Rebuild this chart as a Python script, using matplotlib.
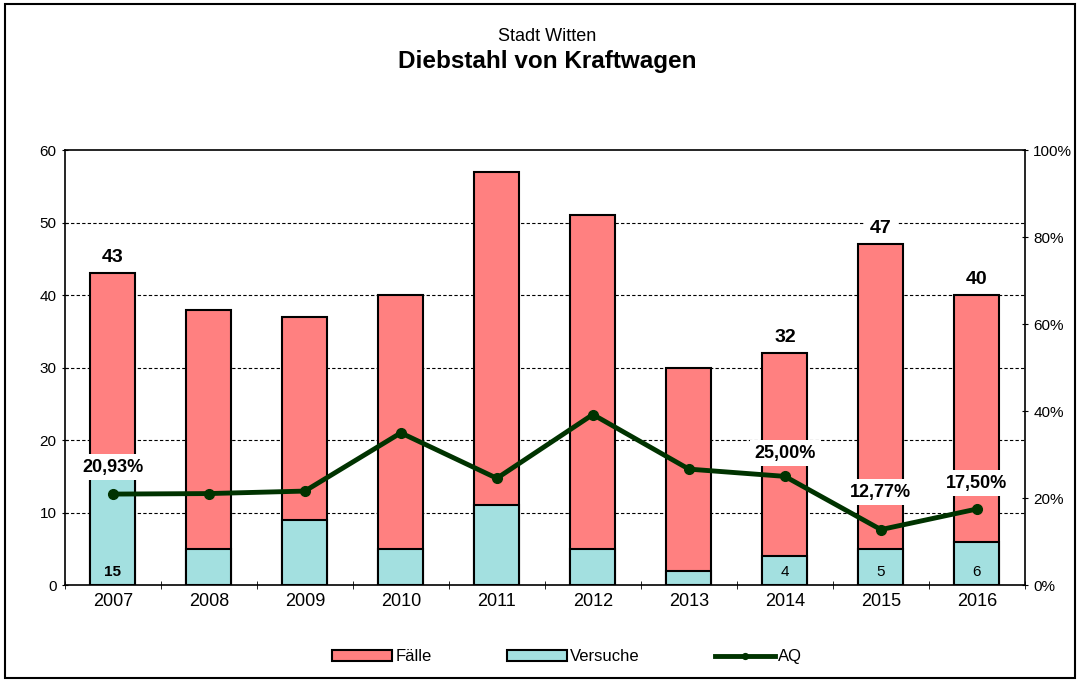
import matplotlib.pyplot as plt
from matplotlib.patches import Rectangle
import numpy as np

jahre = ['2007', '2008', '2009', '2010', '2011', '2012', '2013', '2014', '2015', '2016']
faelle = [43, 38, 37, 40, 57, 51, 30, 32, 47, 40]
versuche = [15, 5, 9, 5, 11, 5, 2, 4, 5, 6]
aq = [20.93, 21.05, 21.62, 35.00, 24.56, 39.22, 26.67, 25.00, 12.77, 17.50]

# nur diese Jahre beschriftet
label_jahre = ['2007', '2014', '2015', '2016']
aq_offset = {'2007': 6.2, '2014': 5.3, '2015': 8.6, '2016': 5.9}

plt.rcParams['font.family'] = ['Liberation Sans', 'DejaVu Sans']

col_faelle = '#FF8080'
col_versuche = '#A3E0E0'
col_aq = '#003300'

fig = plt.figure(figsize=(10.8, 6.82), dpi=100)
fig.patches.append(Rectangle((0.005, 0.006), 0.99, 0.988, transform=fig.transFigure,
                             fill=False, edgecolor='black', linewidth=1.5))

ax = fig.add_axes([0.060, 0.142, 0.889, 0.638])
x = np.arange(len(jahre))

ax.bar(x, faelle, width=0.47, color=col_faelle, edgecolor='black', linewidth=1.5,
       label='Fälle', zorder=2)
ax.bar(x, versuche, width=0.47, color=col_versuche, edgecolor='black', linewidth=1.5,
       label='Versuche', zorder=3)

ax.set_xlim(-0.5, len(jahre) - 0.5)
ax.set_ylim(0, 60)
ax.set_yticks(range(0, 61, 10))
ax.set_xticks(x)
ax.set_xticklabels(jahre, fontsize=13)
ax.set_xticks(np.arange(-0.5, len(jahre), 1), minor=True)
ax.tick_params(axis='x', which='major', length=0, pad=6)
ax.tick_params(axis='x', which='minor', length=6, direction='inout')
ax.tick_params(axis='y', labelsize=11, length=5, direction='inout')
for yv in range(10, 60, 10):
    ax.axhline(yv, color='black', linestyle=(0, (3, 2)), linewidth=0.8, zorder=1)
ax.spines['top'].set_linewidth(1.2)
ax.spines['right'].set_visible(False)
ax.spines['left'].set_linewidth(1.2)
ax.spines['bottom'].set_linewidth(1.2)

ax2 = ax.twinx()
ax2.plot(x, aq, color=col_aq, linewidth=3.5, marker='o', markersize=7,
         label='AQ', zorder=5)
ax2.set_ylim(0, 100)
ax2.set_yticks(range(0, 101, 20))
ax2.set_yticklabels([f'{v}%' for v in range(0, 101, 20)], fontsize=11)
ax2.tick_params(axis='y', length=5, direction='inout')
ax2.spines['top'].set_visible(False)
ax2.spines['left'].set_visible(False)
ax2.spines['bottom'].set_visible(False)
ax2.spines['right'].set_linewidth(1.2)

box = dict(boxstyle='square,pad=0.25', facecolor='white', edgecolor='none')
for i, j in enumerate(jahre):
    if j in label_jahre:
        ax.text(i, faelle[i] + 2.2, str(faelle[i]), ha='center', va='center',
                fontsize=14, fontweight='bold', zorder=4, bbox=box)
        ax.text(i, 0.8, str(versuche[i]), ha='center', va='bottom',
                fontsize=11, fontweight='bold' if versuche[i] >= 10 else 'normal')
        ax2.text(i, aq[i] + aq_offset[j], f'{aq[i]:.2f}%'.replace('.', ','), ha='center',
                 va='center', fontsize=13, fontweight='bold', zorder=6, bbox=box)

fig.text(0.507, 0.947, 'Stadt Witten', ha='center', va='center', fontsize=13)
fig.text(0.507, 0.91, 'Diebstahl von Kraftwagen', ha='center', va='center',
         fontsize=17.5, fontweight='bold')

h1, l1 = ax.get_legend_handles_labels()
h2, l2 = ax2.get_legend_handles_labels()
fig.legend(h1 + h2, l1 + l2, loc='center', bbox_to_anchor=(0.525, 0.037), ncol=3,
           frameon=False, fontsize=12, handlelength=3.6, handleheight=0.6,
           columnspacing=4.5, handletextpad=0.2, markerscale=0.6)

plt.savefig('out.png', dpi=100)
